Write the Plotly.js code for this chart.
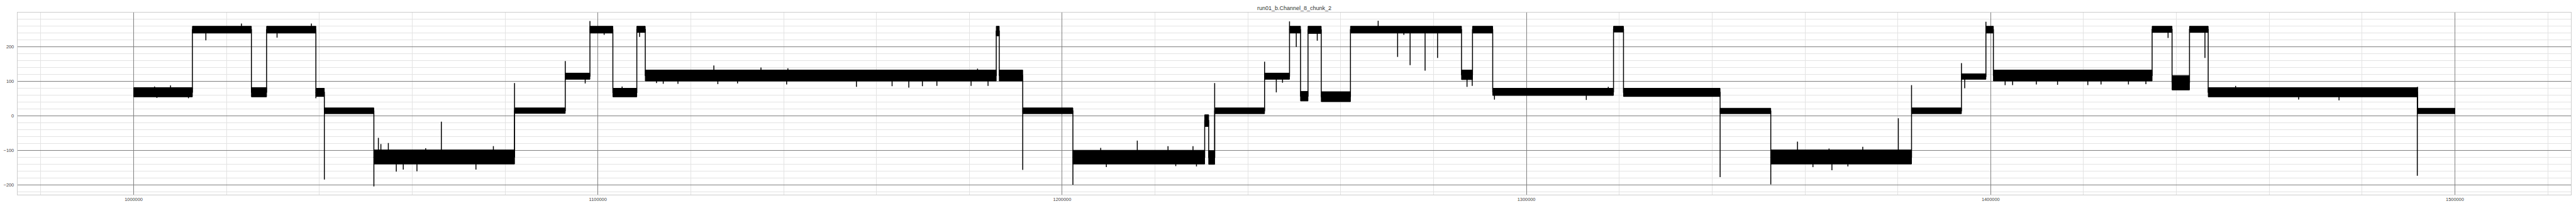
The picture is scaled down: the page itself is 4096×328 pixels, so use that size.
<!DOCTYPE html>
<html>
<head>
<meta charset="utf-8">
<script src="https://cdn.plot.ly/plotly-3.0.1.min.js"></script>
<style>
  html, body { margin: 0; padding: 0; background: #ffffff; }
  #chart { width: 4096px; height: 328px; }
</style>
</head>
<body>
<div id="chart"></div>
<script>
// ---- Data ----
const chartTitle = "run01_b.Channel_8_chunk_2";

// Each level (plateau) of the signal: where it starts, and the low / high edge of its noise band
const levelStart = [1000000, 1012650, 1025360, 1028630, 1039250, 1041070, 1051740, 1082040, 1092965, 1098280,
                    1103220, 1108380, 1110200, 1185800, 1186450, 1191505, 1202310, 1230700, 1231560, 1232850,
                    1243600, 1248975, 1251345, 1252957, 1255808, 1262100, 1286022, 1288388, 1292742, 1318762,
                    1320913, 1341720, 1352637, 1382958, 1393710, 1398979, 1400591, 1434779, 1439073, 1442831,
                    1446857, 1491948];
const levelLow   = [55, 240, 55, 240, 56, 6, -140, 7, 106, 240,
                    55, 242, 101, 232, 101, 6, -140, -31, -141, 6,
                    106, 240, 43, 239, 41, 240, 105, 240, 59, 243,
                    56, 6, -140, 6, 106, 240, 101, 242, 75, 242,
                    55, 6];
const levelHigh  = [82, 260, 82, 260, 80, 23, -99, 23, 124, 260,
                    80, 260, 133, 260, 133, 23, -100, 3, -101, 23,
                    124, 260, 71, 260, 70, 260, 133, 260, 80, 260,
                    80, 22, -99, 23, 122, 260, 133, 260, 117, 260,
                    82, 22];
const lastSample = 1500000;

// Isolated spikes (sample index, extreme value reached)
const spikeX = [1007936, 1004500, 1005000, 1011800,
                1023217, 1015550, 1038285, 1030885, 1039250, 1041070, 1051743,
                1052708, 1054853, 1066274, 1077480, 1053250, 1062900,
                1056569, 1058070, 1061019, 1073727, 1082038,
                1092965, 1097261, 1098281, 1101343, 1105209, 1108968,
                1124971, 1135120, 1140920, 1112620, 1114070, 1117240, 1125830, 1130072,
                1140651, 1155687, 1163366, 1166964,
                1169894, 1173012, 1180378, 1184033, 1181775,
                1191506, 1202312, 1216182, 1222800, 1228180, 1208300, 1209516, 1228930, 1224470,
                1232849, 1243600, 1246126, 1247470, 1248975, 1250427,
                1254949, 1268066, 1272259, 1274947, 1278174, 1280862, 1273603,
                1287205, 1288330, 1293119, 1312902, 1317633,
                1341724, 1352637, 1358390, 1380109, 1372450, 1365190, 1365809, 1361720, 1369250,
                1382958, 1393710, 1394409, 1398979,
                1403118, 1404730, 1414408, 1409840, 1420929, 1423774, 1429679, 1433437,
                1438214, 1446159, 1452762, 1466343, 1475039, 1491948, 1491900];
const spikeY = [88, 85, 52, 51,
                268, 219, 268, 227, 51, -185, -205,
                -64, -79, -17, -88, -82, -94,
                -162, -156, -161, -156, 95,
                159, 94, 275, 235, 85, 229,
                146, 140, 138, 95, 93, 93, 92, 94,
                91, 84, 86, 82,
                86, 87, 87, 87, 137,
                -157, -200, -72, -88, -88, -93, -149, -147, -146,
                95, 157, 68, 96, 274, 200,
                218, 276, 171, 147, 131, 168, 235,
                84, 87, 47, 46, 84,
                -178, -199, -75, -7, -90, -95, -158, -149, -147,
                89, 153, 80, 273,
                89, 89, 90, 91, 89, 91, 91, 92,
                226, 168, 87, 47, 45, 84, -174];

// Axis ticks
const xTickVals = [1000000, 1100000, 1200000, 1300000, 1400000, 1500000];
const xTickText = ["1000000", "1100000", "1200000", "1300000", "1400000", "1500000"];
const yTickVals = [-200, -100, 0, 100, 200];
const yTickText = ["\u2212200", "\u2212100", "0", "100", "200"];

// ---- Build traces from the arrays ----
const nLev = levelStart.length;
const levelEnd = levelStart.slice(1).concat([lastSample]);
const levelMid = levelLow.map((lo, i) => (lo + levelHigh[i]) / 2);

// Noise bands as filled rectangles
const bandX = [], bandY = [];
for (let i = 0; i < nLev; i++) {
  bandX.push(levelStart[i], levelEnd[i], levelEnd[i], levelStart[i], levelStart[i], null);
  bandY.push(levelLow[i], levelLow[i], levelHigh[i], levelHigh[i], levelLow[i], null);
}

// Signal path through level centres (gives vertical transitions)
const pathX = [], pathY = [];
for (let i = 0; i < nLev; i++) {
  pathX.push(levelStart[i], levelEnd[i]);
  pathY.push(levelMid[i], levelMid[i]);
}

// Spikes: vertical strokes from the level they sit on
function levelAt(x) {
  let k = 0;
  for (let i = 0; i < nLev; i++) if (levelStart[i] <= x) k = i;
  return k;
}
const spX = [], spY = [];
for (let j = 0; j < spikeX.length; j++) {
  const k = levelAt(spikeX[j]);
  spX.push(spikeX[j], spikeX[j], null);
  spY.push(levelMid[k], spikeY[j], null);
}

const traces = [
  { type: 'scatter', mode: 'lines', x: bandX, y: bandY, fill: 'toself', fillcolor: '#000000',
    line: { color: '#000000', width: 1 }, hoverinfo: 'skip', showlegend: false },
  { type: 'scatter', mode: 'lines', x: pathX, y: pathY,
    line: { color: '#000000', width: 1.5 }, hoverinfo: 'skip', showlegend: false },
  { type: 'scatter', mode: 'lines', x: spX, y: spY, connectgaps: false,
    line: { color: '#000000', width: 1.5 }, hoverinfo: 'skip', showlegend: false }
];

const layout = {
  width: 4096, height: 328,
  margin: { l: 28, r: 8, t: 20, b: 18, pad: 0 },
  paper_bgcolor: '#ffffff', plot_bgcolor: '#ffffff',
  font: { family: 'Liberation Sans, Arial, sans-serif', size: 7.4, color: '#444444' },
  title: { text: chartTitle, x: 0.5, xref: 'paper', xanchor: 'center',
           y: 1 - 12.6 / 328, yref: 'container', yanchor: 'middle',
           font: { family: 'Liberation Sans, Arial, sans-serif', size: 9, color: '#333333' } },
  showlegend: false,
  hovermode: false,
  xaxis: {
    range: [975000, 1525000], tickmode: 'array', tickvals: xTickVals, ticktext: xTickText,
    showgrid: true, gridcolor: '#808080', gridwidth: 1.1, zeroline: false,
    showline: true, linecolor: '#cccccc', linewidth: 1.3, mirror: true,
    ticks: '', ticklabelstandoff: 0,
    tickfont: { family: 'Liberation Sans, Arial, sans-serif', size: 7.4, color: '#444444' },
    minor: { tick0: 1000000, dtick: 20000, showgrid: true, gridcolor: '#e3e3e3', gridwidth: 1, ticks: '' }
  },
  yaxis: {
    range: [-229, 299.7], tickmode: 'array', tickvals: yTickVals, ticktext: yTickText,
    showgrid: true, gridcolor: '#808080', gridwidth: 1.1, zeroline: false,
    showline: true, linecolor: '#cccccc', linewidth: 1.3, mirror: true,
    ticks: '', ticklabelstandoff: 3,
    tickfont: { family: 'Liberation Sans, Arial, sans-serif', size: 7.4, color: '#444444' },
    minor: { tick0: 0, dtick: 20, showgrid: true, gridcolor: '#e3e3e3', gridwidth: 1, ticks: '' }
  }
};

Plotly.newPlot('chart', traces, layout, { staticPlot: true, displayModeBar: false });
</script>
</body>
</html>
